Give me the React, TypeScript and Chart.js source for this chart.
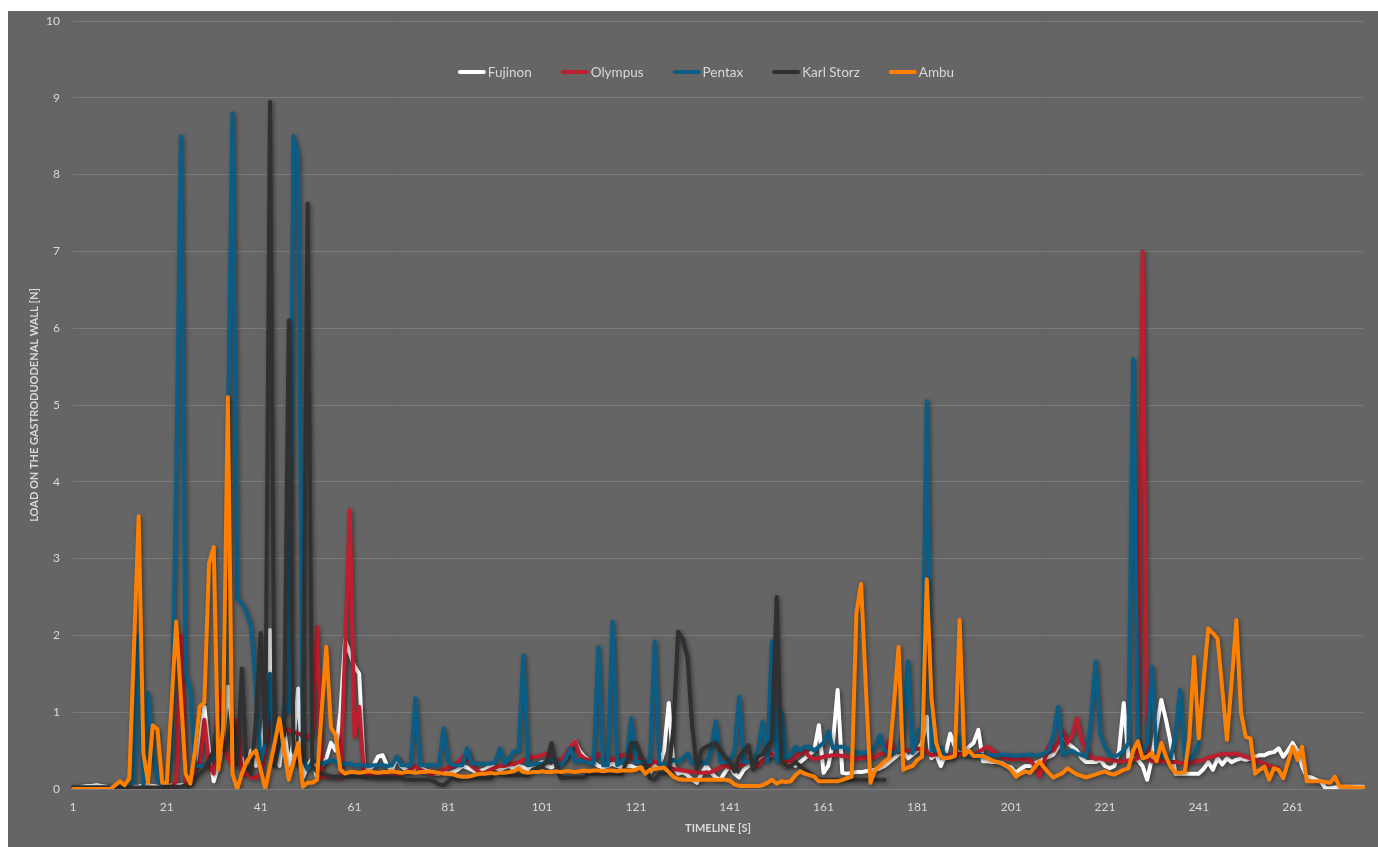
import React, { useEffect, useRef } from "react";
import { Chart, registerables } from "chart.js";

Chart.register(...registerables);

const seriesNames = ["Fujinon", "Olympus", "Pentax", "Karl Storz", "Ambu"];
const seriesColors = ["#FFFFFF", "#BE1E2D", "#0A5E85", "#303030", "#FF8000"];
const drawOrder = [4, 3, 2, 1, 0];

const categories = Array.from({ length: 276 }, (_, i) => String(i + 1));
const xTickLabels = ["1", "21", "41", "61", "81", "101", "121", "141", "161", "181", "201", "221", "241", "261"];

const fujinon = [
  0.01, 0.02, 0.03, 0.04, 0.04, 0.05, 0.04, 0.03, 0.02, 0.02,
  0.02, 0.03, 0.03, 0.03, 0.03, 0.05, 0.05, 0.04, 0.03, 0.03,
  0.04, 0.05, 0.05, 0.05, 0.05, 0.1, 0.3, 0.6, 1.07, 0.5,
  0.1, 0.3, 0.6, 1.33, 0.8, 0.3, 0.4, 0.3, 0.5, 0.3,
  0.4, 1.0, 2.07, 0.5, 0.3, 0.8, 0.3, 0.6, 1.31, 0.15,
  0.3, 0.4, 0.15, 0.3, 0.4, 0.6, 0.5, 1.0, 1.94, 1.77,
  1.6, 1.5, 0.3, 0.25, 0.3, 0.42, 0.44, 0.3, 0.25, 0.4,
  0.3, 0.25, 0.22, 0.28, 0.28, 0.25, 0.22, 0.2, 0.2, 0.22,
  0.2, 0.22, 0.25, 0.3, 0.28, 0.25, 0.22, 0.24, 0.26, 0.3,
  0.28, 0.25, 0.28, 0.3, 0.26, 0.3, 0.28, 0.25, 0.3, 0.32,
  0.35, 0.3, 0.28, 0.32, 0.35, 0.4, 0.55, 0.62, 0.5, 0.42,
  0.38, 0.35, 0.3, 0.28, 0.3, 0.33, 0.3, 0.28, 0.3, 0.3,
  0.27, 0.28, 0.26, 0.21, 0.3, 0.3, 0.5, 1.12, 0.3, 0.2,
  0.22, 0.18, 0.12, 0.08, 0.2, 0.3, 0.22, 0.15, 0.12, 0.22,
  0.3, 0.2, 0.15, 0.25, 0.3, 0.35, 0.38, 0.4, 0.42, 0.45,
  0.47, 0.35, 0.3, 0.35, 0.3, 0.35, 0.4, 0.45, 0.5, 0.83,
  0.21, 0.3, 0.6, 1.29, 0.21, 0.2, 0.21, 0.22, 0.22, 0.23,
  0.24, 0.25, 0.27, 0.3, 0.35, 0.4, 0.45, 0.5, 0.4, 0.45,
  0.5, 0.6, 0.94, 0.4, 0.45, 0.3, 0.45, 0.72, 0.55, 0.45,
  0.5, 0.55, 0.6, 0.77, 0.36, 0.36, 0.35, 0.35, 0.34, 0.3,
  0.28, 0.21, 0.26, 0.3, 0.3, 0.33, 0.36, 0.39, 0.42, 0.45,
  0.55, 0.7, 0.6, 0.55, 0.5, 0.4, 0.35, 0.35, 0.35, 0.38,
  0.3, 0.27, 0.3, 0.5, 1.12, 0.4, 0.4, 0.38, 0.3, 0.12,
  0.4, 0.8, 1.16, 0.9, 0.6, 0.2, 0.2, 0.2, 0.2, 0.2,
  0.2, 0.26, 0.35, 0.25, 0.4, 0.32, 0.4, 0.35, 0.38, 0.4,
  0.38, 0.4, 0.42, 0.44, 0.44, 0.47, 0.48, 0.53, 0.42, 0.5,
  0.6, 0.5, 0.3, 0.16, 0.15, 0.12, 0.1, 0.01, 0.01, 0.02,
  0.03, 0.03, 0.03, 0.03, 0.03, 0.03,
];

const olympus = [
  0.01, 0.01, 0.01, 0.01, 0.01, 0.01, 0.01, 0.01, 0.01, 0.01,
  0.01, 0.01, 0.01, 0.01, 0.01, 0.01, 0.01, 0.01, 0.01, 0.01,
  0.01, 0.02, 0.1, 2.0, 0.05, 0.1, 0.3, 0.35, 0.9, 0.3,
  0.2, 1.3, 0.6, 0.4, 0.3, 0.9, 0.2, 0.2, 0.15, 0.14,
  0.2, 0.5, 1.0, 0.8, 0.8, 0.78, 0.76, 0.74, 0.72, 0.7,
  0.68, 0.7, 2.11, 0.16, 0.16, 0.16, 0.15, 0.15, 1.8, 3.63,
  0.68, 1.07, 0.23, 0.18, 0.16, 0.16, 0.16, 0.16, 0.16, 0.17,
  0.2, 0.22, 0.25, 0.3, 0.25, 0.22, 0.2, 0.2, 0.22, 0.25,
  0.28, 0.3, 0.35, 0.4, 0.46, 0.3, 0.25, 0.2, 0.22, 0.25,
  0.28, 0.3, 0.3, 0.32, 0.33, 0.35, 0.38, 0.4, 0.42, 0.42,
  0.44, 0.46, 0.4, 0.35, 0.38, 0.45, 0.55, 0.62, 0.45, 0.4,
  0.38, 0.4, 0.46, 0.42, 0.4, 0.38, 0.42, 0.44, 0.44, 0.42,
  0.4, 0.39, 0.35, 0.32, 0.36, 0.32, 0.3, 0.28, 0.26, 0.25,
  0.24, 0.23, 0.22, 0.22, 0.21, 0.21, 0.22, 0.25, 0.28, 0.3,
  0.28, 0.26, 0.3, 0.33, 0.36, 0.33, 0.3, 0.38, 0.42, 0.46,
  0.42, 0.38, 0.35, 0.36, 0.42, 0.46, 0.49, 0.42, 0.39, 0.4,
  0.42, 0.43, 0.44, 0.44, 0.43, 0.42, 0.4, 0.39, 0.4, 0.41,
  0.4, 0.42, 0.45, 0.47, 0.64, 0.5, 0.48, 0.5, 0.5, 0.51,
  0.52, 0.53, 0.48, 0.44, 0.45, 0.46, 0.44, 0.44, 0.45, 0.46,
  0.45, 0.44, 0.45, 0.48, 0.52, 0.55, 0.5, 0.46, 0.42, 0.39,
  0.39, 0.39, 0.39, 0.38, 0.38, 0.3, 0.16, 0.35, 0.57, 0.5,
  0.6, 0.75, 0.6, 0.7, 0.92, 0.64, 0.5, 0.42, 0.39, 0.4,
  0.38, 0.37, 0.37, 0.36, 0.36, 0.37, 0.38, 0.4, 7.0, 0.4,
  0.36, 0.36, 0.36, 0.36, 0.35, 0.35, 0.34, 0.33, 0.34, 0.36,
  0.36, 0.38, 0.41, 0.42, 0.44, 0.46, 0.45, 0.46, 0.46, 0.44,
  0.42, 0.4, 0.38, 0.35, 0.33, 0.3, 0.28, 0.27,
];

const pentax = [
  0.02, 0.02, 0.02, 0.02, 0.02, 0.02, 0.02, 0.02, 0.02, 0.02,
  0.02, 0.03, 0.03, 0.1, 2.0, 0.05, 1.25, 0.5, 0.1, 0.05,
  0.1, 0.5, 4.0, 8.5, 1.5, 1.3, 0.3, 0.3, 0.3, 0.35,
  0.4, 0.5, 0.9, 4.5, 8.8, 2.48, 2.42, 2.3, 2.1, 1.3,
  0.35, 0.6, 1.5, 0.3, 0.6, 1.1, 1.0, 8.5, 8.25, 0.4,
  0.25, 0.35, 0.38, 0.33, 0.35, 0.38, 0.35, 0.33, 0.33, 0.33,
  0.31, 0.31, 0.31, 0.3, 0.31, 0.31, 0.31, 0.3, 0.31, 0.42,
  0.31, 0.31, 0.31, 1.18, 0.31, 0.31, 0.31, 0.31, 0.31, 0.79,
  0.35, 0.31, 0.31, 0.31, 0.53, 0.33, 0.33, 0.33, 0.33, 0.33,
  0.35, 0.53, 0.33, 0.4, 0.49, 0.49, 1.74, 0.31, 0.32, 0.33,
  0.33, 0.35, 0.39, 0.35, 0.31, 0.4, 0.53, 0.35, 0.37, 0.36,
  0.34, 0.33, 1.85, 0.31, 0.31, 2.18, 0.31, 0.35, 0.4, 0.92,
  0.35, 0.35, 0.35, 0.35, 1.92, 0.33, 0.33, 0.33, 0.38, 0.35,
  0.4, 0.46, 0.33, 0.35, 0.35, 0.33, 0.5, 0.88, 0.35, 0.35,
  0.35, 0.5, 1.2, 0.35, 0.35, 0.35, 0.5, 0.88, 0.35, 1.92,
  0.35, 1.0, 0.4, 0.45, 0.55, 0.5, 0.55, 0.55, 0.5, 0.55,
  0.6, 0.75, 0.53, 0.55, 0.55, 0.52, 0.5, 0.48, 0.47, 0.47,
  0.5, 0.55, 0.7, 0.5, 0.47, 0.47, 0.5, 0.8, 1.66, 0.47,
  0.75, 0.8, 5.05, 0.5, 0.5, 0.55, 0.42, 0.39, 0.45, 0.68,
  0.46, 0.44, 0.44, 0.45, 0.44, 0.43, 0.44, 0.44, 0.45, 0.44,
  0.44, 0.43, 0.44, 0.44, 0.45, 0.44, 0.44, 0.46, 0.5, 0.7,
  1.07, 0.44, 0.48, 0.5, 0.46, 0.44, 0.42, 0.9, 1.66, 0.72,
  0.55, 0.45, 0.42, 0.45, 0.5, 0.6, 5.6, 0.6, 0.45, 0.6,
  1.59, 0.42, 0.45, 0.4, 0.4, 0.7, 1.29, 0.42, 0.38, 0.45,
  0.6,
];

const karlStorz = [
  0.02, 0.02, 0.02, 0.02, 0.02, 0.02, 0.02, 0.02, 0.02, 0.02,
  0.02, 0.02, 0.02, 0.02, 0.02, 0.02, 0.02, 0.02, 0.02, 0.02,
  0.03, 0.03, 0.03, 0.03, 0.05, 0.08, 0.14, 0.2, 0.25, 0.38,
  0.5, 1.0, 0.5, 0.6, 0.9, 0.3, 1.57, 0.3, 0.2, 0.9,
  2.03, 0.6, 8.95, 0.3, 0.8, 0.7, 6.1, 0.5, 0.3, 0.4,
  7.62, 0.3, 0.22, 0.2, 0.18, 0.16, 0.16, 0.16, 0.16, 0.16,
  0.16, 0.16, 0.15, 0.15, 0.15, 0.15, 0.15, 0.15, 0.15, 0.15,
  0.14, 0.12, 0.12, 0.12, 0.12, 0.12, 0.12, 0.1, 0.06, 0.05,
  0.1, 0.15, 0.12, 0.14, 0.14, 0.14, 0.14, 0.14, 0.14, 0.14,
  0.2, 0.2, 0.18, 0.18, 0.18, 0.18, 0.18, 0.18, 0.25, 0.28,
  0.3, 0.35, 0.6, 0.3, 0.14, 0.15, 0.15, 0.15, 0.15, 0.15,
  0.2, 0.2, 0.2, 0.2, 0.2, 0.2, 0.2, 0.2, 0.35, 0.6,
  0.6, 0.45, 0.3, 0.14, 0.12, 0.2, 0.2, 0.21, 0.8, 2.05,
  1.95, 1.72, 0.81, 0.26, 0.51, 0.55, 0.58, 0.6, 0.5, 0.42,
  0.35, 0.23, 0.42, 0.5, 0.57, 0.25, 0.42, 0.45, 0.55, 0.64,
  2.5, 0.35, 0.3, 0.3, 0.35, 0.3, 0.25, 0.21, 0.15, 0.12,
  0.12, 0.12, 0.12, 0.12, 0.12, 0.12, 0.12, 0.12, 0.12, 0.12,
  0.12, 0.12, 0.12, 0.12,
];

const ambu = [
  0, 0, 0, 0, 0, 0, 0, 0, 0, 0.05,
  0.1, 0.05, 0.14, 1.85, 3.55, 0.47, 0.08, 0.83, 0.78, 0.08,
  0.08, 1.1, 2.18, 1.2, 0.2, 0.07, 0.5, 1.07, 1.13, 2.94,
  3.15, 0.25, 0.8, 5.1, 0.2, 0.0, 0.2, 0.35, 0.45, 0.5,
  0.25, 0.0, 0.3, 0.6, 0.92, 0.5, 0.12, 0.35, 0.6, 0.03,
  0.08, 0.08, 0.12, 1.0, 1.85, 0.8, 0.7, 0.25, 0.2, 0.22,
  0.22, 0.21, 0.22, 0.23, 0.22, 0.21, 0.22, 0.22, 0.23, 0.22,
  0.21, 0.22, 0.22, 0.21, 0.22, 0.22, 0.23, 0.22, 0.21, 0.2,
  0.2, 0.19, 0.17, 0.16, 0.16, 0.17, 0.19, 0.2, 0.2, 0.21,
  0.2, 0.21, 0.21, 0.22, 0.23, 0.27, 0.22, 0.21, 0.22, 0.22,
  0.23, 0.22, 0.22, 0.23, 0.22, 0.23, 0.23, 0.22, 0.23, 0.24,
  0.23, 0.24, 0.24, 0.23, 0.24, 0.24, 0.23, 0.24, 0.24, 0.24,
  0.25, 0.28, 0.2, 0.25, 0.26, 0.27, 0.28, 0.22, 0.16, 0.13,
  0.12, 0.12, 0.12, 0.12, 0.12, 0.12, 0.12, 0.12, 0.12, 0.12,
  0.11, 0.06, 0.04, 0.04, 0.04, 0.04, 0.04, 0.05, 0.08, 0.12,
  0.07, 0.1, 0.09, 0.1, 0.18, 0.23, 0.2, 0.18, 0.16, 0.1,
  0.1, 0.1, 0.1, 0.1, 0.12, 0.14, 0.16, 2.29, 2.67, 1.35,
  0.08, 0.25, 0.3, 0.36, 0.4, 1.1, 1.85, 0.25, 0.28, 0.3,
  0.38, 0.42, 2.73, 1.2, 0.6, 0.42, 0.4, 0.41, 0.43, 2.2,
  0.44, 0.5, 0.43, 0.43, 0.43, 0.4, 0.37, 0.35, 0.33, 0.3,
  0.25, 0.16, 0.2, 0.23, 0.21, 0.28, 0.36, 0.28, 0.21, 0.15,
  0.18, 0.21, 0.27, 0.23, 0.19, 0.17, 0.15, 0.17, 0.19, 0.21,
  0.23, 0.2, 0.19, 0.22, 0.25, 0.27, 0.5, 0.62, 0.4, 0.42,
  0.47, 0.36, 0.6, 0.42, 0.29, 0.21, 0.21, 0.22, 0.68, 1.72,
  0.66, 1.4, 2.09, 2.03, 1.96, 1.3, 0.64, 1.4, 2.2, 0.99,
  0.68, 0.66, 0.2, 0.25, 0.29, 0.12, 0.27, 0.25, 0.14, 0.35,
  0.55, 0.38, 0.55, 0.1, 0.1, 0.1, 0.1, 0.09, 0.08, 0.16,
  0.03, 0.03, 0.03, 0.02, 0.02, 0.02,
];

const seriesData = [fujinon, olympus, pentax, karlStorz, ambu];

const FONT = "Lato, 'Open Sans', sans-serif";
const TEXT_COLOR = "#D9D9D9";

const shadowPlugin = {
  id: "lineShadow",
  beforeDatasetDraw(chart: any) {
    const ctx = chart.ctx;
    ctx.save();
    ctx.shadowColor = "rgba(0,0,0,0.45)";
    ctx.shadowBlur = 4;
    ctx.shadowOffsetX = 1.5;
    ctx.shadowOffsetY = 1.5;
  },
  afterDatasetDraw(chart: any) {
    chart.ctx.restore();
  },
};

const legendPlugin = {
  id: "overlayLegend",
  afterDraw(chart: any) {
    const ctx = chart.ctx;
    ctx.save();
    ctx.font = `13.5px ${FONT}`;
    const lineW = 28;
    const gapLT = 2;
    const gapItem = 29;
    const widths = seriesNames.map((n) => ctx.measureText(n).width);
    const total =
      widths.reduce((a, b) => a + b, 0) +
      seriesNames.length * (lineW + gapLT) +
      (seriesNames.length - 1) * gapItem;
    let x = 698 - total / 2;
    const y = 61;
    ctx.textBaseline = "middle";
    ctx.textAlign = "left";
    seriesNames.forEach((name, i) => {
      ctx.strokeStyle = seriesColors[i];
      ctx.lineWidth = 4;
      ctx.lineCap = "round";
      ctx.beginPath();
      ctx.moveTo(x + 2, y);
      ctx.lineTo(x + lineW - 2, y);
      ctx.stroke();
      ctx.fillStyle = TEXT_COLOR;
      ctx.fillText(name, x + lineW + gapLT, y + 0.5);
      x += lineW + gapLT + widths[i] + gapItem;
    });
    ctx.restore();
  },
};

export default function App() {
  const canvasRef = useRef<HTMLCanvasElement | null>(null);

  useEffect(() => {
    if (!canvasRef.current) return;
    const chart = new Chart(canvasRef.current, {
      type: "line",
      data: {
        labels: categories,
        datasets: seriesNames.map((name, i) => ({
          label: name,
          data: seriesData[i],
          borderColor: seriesColors[i],
          backgroundColor: seriesColors[i],
          borderWidth: 4,
          pointRadius: 0,
          pointHoverRadius: 0,
          tension: 0,
          fill: false,
          borderJoinStyle: "round" as const,
          borderCapStyle: "round" as const,
          order: drawOrder[i],
        })),
      },
      options: {
        animation: false,
        responsive: true,
        maintainAspectRatio: false,
        events: [],
        layout: { padding: { top: 10, right: 15, bottom: 0, left: 0 } },
        plugins: {
          legend: { display: false },
          tooltip: { enabled: false },
        },
        scales: {
          x: {
            type: "category",
            offset: false,
            grid: { display: false, drawTicks: false },
            border: { display: false },
            ticks: {
              autoSkip: false,
              maxRotation: 0,
              minRotation: 0,
              padding: 10.5,
              color: TEXT_COLOR,
              font: { family: FONT, size: 12 },
              callback: (_v: any, index: number) =>
                xTickLabels.includes(categories[index]) ? categories[index] : "",
            },
            title: {
              display: true,
              text: "TIMELINE [S]",
              color: TEXT_COLOR,
              font: { family: FONT, size: 11, weight: "bold" },
              padding: { top: 0, bottom: 12 },
            },
            afterFit: (scale: any) => {
              scale.height = 58;
            },
          },
          y: {
            min: 0,
            max: 10,
            ticks: {
              stepSize: 1,
              padding: 13,
              color: TEXT_COLOR,
              font: { family: FONT, size: 12 },
            },
            grid: { color: "#7A7A7A", lineWidth: 1, drawTicks: false },
            border: { display: false },
            title: {
              display: true,
              text: "LOAD ON THE GASTRODUODENAL WALL [N]",
              color: TEXT_COLOR,
              font: { family: FONT, size: 11, weight: "bold" },
              padding: { top: 20, bottom: 0 },
            },
            afterFit: (scale: any) => {
              scale.width = 65;
              scale.paddingTop = 0;
              scale.paddingBottom = 0;
            },
          },
        },
      },
      plugins: [shadowPlugin, legendPlugin],
    });
    return () => chart.destroy();
  }, []);

  return (
    <div
      style={{
        position: "absolute",
        left: 8,
        top: 11,
        width: 1370,
        height: 836,
        background: "#656565",
      }}
    >
      <canvas ref={canvasRef} />
    </div>
  );
}
